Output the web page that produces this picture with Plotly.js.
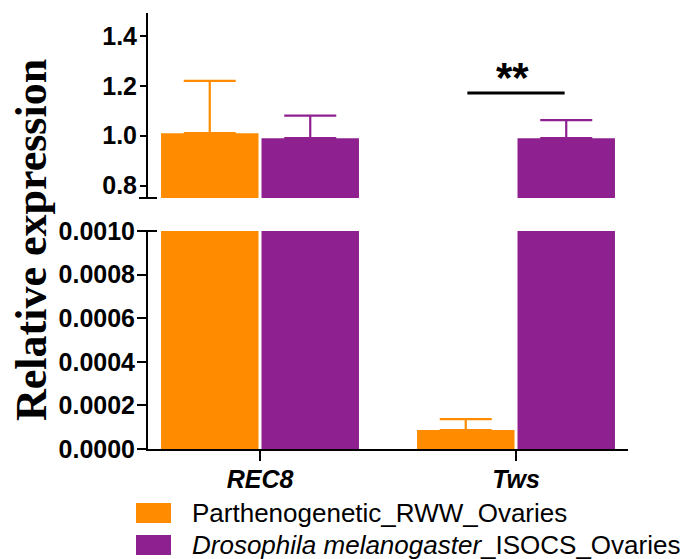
<!DOCTYPE html>
<html>
<head>
<meta charset="utf-8">
<script src="https://cdn.plot.ly/plotly-3.0.1.min.js"></script>
<style>html,body{margin:0;padding:0;background:#fff;}#chart{width:683px;height:559px;}</style>
</head>
<body>
<div id="chart"></div>
<script>
// ---- data ----
const categories = ['REC8', 'Tws'];
const seriesNames = ['Parthenogenetic_RWW_Ovaries', '<i>Drosophila melanogaster</i>_ISOCS_Ovaries'];
const rwwValues = [1.01, 0.000087];
const rwwErrors = [0.21, 0.00005];
const dmelValues = [0.99, 0.99];
const dmelErrors = [0.09, 0.072];
const topTicks = [0.8, 1.0, 1.2, 1.4];
const bottomTicks = [0, 0.0002, 0.0004, 0.0006, 0.0008, 0.0010];
const significance = '**';

// ---- style ----
const colors = ['#FF8C00', '#8E218F'];
const W = 683, H = 559, ML = 148, MR = 55, MT = 13, MB = 110;
const PW = W - ML - MR, PH = H - MT - MB;
const px = x => (x - ML) / PW;          // pixel -> paper x
const py = y => (H - MB - y) / PH;      // pixel -> paper y

const series = [
  {name: seriesNames[0], y: rwwValues, err: rwwErrors, color: colors[0]},
  {name: seriesNames[1], y: dmelValues, err: dmelErrors, color: colors[1]}
];

const traces = [];
['y', 'y2'].forEach(ax => {
  series.forEach((s, i) => {
    traces.push({
      type: 'bar', x: categories, y: s.y, name: s.name, yaxis: ax, xaxis: 'x',
      marker: {color: s.color, line: {width: 0}},
      error_y: {type: 'data', array: s.err, symmetric: false, arrayminus: s.err.map(() => 0),
                color: s.color, thickness: 2.2, width: 26},
      showlegend: false, hoverinfo: 'skip'
    });
  });
});

const tickFont = {family: 'Liberation Sans, Arial, sans-serif', size: 25, color: '#000', weight: 'bold'};

const shapes = [
  // axis-break caps
  {type: 'line', xref: 'paper', yref: 'y2 domain', x0: px(139), x1: px(157), y0: 0, y1: 0, line: {color: '#000', width: 2}},
  {type: 'line', xref: 'paper', yref: 'y domain', x0: px(139), x1: px(157), y0: 1, y1: 1, line: {color: '#000', width: 2}},
  // significance bar
  {type: 'line', xref: 'x', yref: 'y2', x0: 1 - 0.19, x1: 1 + 0.19, y0: 1.171, y1: 1.171, line: {color: '#000', width: 3}}
];
const annotations = [
  {xref: 'x', yref: 'y2', x: 0.985, y: 1.235, text: '<b>' + significance + '</b>', showarrow: false,
   font: {family: 'Liberation Sans, Arial, sans-serif', size: 42, color: '#000'}, xanchor: 'center', yanchor: 'middle'},
  {xref: 'paper', yref: 'paper', x: px(31), y: py(240), text: '<b>Relative expression</b>', textangle: -90,
   xanchor: 'center', yanchor: 'middle',
   showarrow: false, font: {family: 'Liberation Serif, Times New Roman, serif', size: 44, color: '#000'}}
];
// legend drawn as swatches + labels
const legendRows = [513, 545];
series.forEach((s, i) => {
  const cy = legendRows[i];
  shapes.push({type: 'rect', xref: 'paper', yref: 'paper', x0: px(136), x1: px(171), y0: py(cy + 10), y1: py(cy - 10),
               fillcolor: s.color, line: {width: 0}});
  annotations.push({xref: 'paper', yref: 'paper', x: px(190), y: py(cy), xanchor: 'left', yanchor: 'middle',
                    text: s.name, showarrow: false,
                    font: {family: 'Liberation Sans, Arial, sans-serif', size: 26, color: '#000'}});
});

const layout = {
  width: W, height: H,
  margin: {l: ML, r: MR, t: MT, b: MB, pad: 0},
  paper_bgcolor: '#fff', plot_bgcolor: '#fff',
  barmode: 'group', bargap: 0.215, bargroupgap: 0.03,
  showlegend: false,
  xaxis: {type: 'category', range: [-0.4375, 1.4375], anchor: 'y', showline: true, linecolor: '#000', linewidth: 2,
          ticks: 'outside', ticklen: 10, tickwidth: 2, tickcolor: '#000', showgrid: false, zeroline: false,
          ticklabelstandoff: -3,
          tickfont: {family: 'Liberation Sans, Arial, sans-serif', size: 25, color: '#000', weight: 'bold', style: 'italic'}},
  yaxis: {domain: [0, py(231)], range: [0, 0.001], anchor: 'x', showline: true, linecolor: '#000', linewidth: 2,
          ticks: 'outside', ticklen: 9, tickwidth: 2, tickcolor: '#000', showgrid: false, zeroline: false,
          ticklabelstandoff: -3,
          tickvals: bottomTicks, tickformat: '.4f', tickfont: tickFont},
  yaxis2: {domain: [py(198), 1], range: [0.75, 1.492], anchor: 'x', showline: true, linecolor: '#000', linewidth: 2,
           ticks: 'outside', ticklen: 6, tickwidth: 2, tickcolor: '#000', showgrid: false, zeroline: false,
           ticklabelstandoff: -2,
           tickvals: topTicks, tickformat: '.1f', tickfont: tickFont},
  shapes: shapes,
  annotations: annotations,
  font: {family: 'Liberation Sans, Arial, sans-serif', color: '#000'}
};

Plotly.newPlot('chart', traces, layout, {displayModeBar: false, staticPlot: true});
</script>
</body>
</html>
